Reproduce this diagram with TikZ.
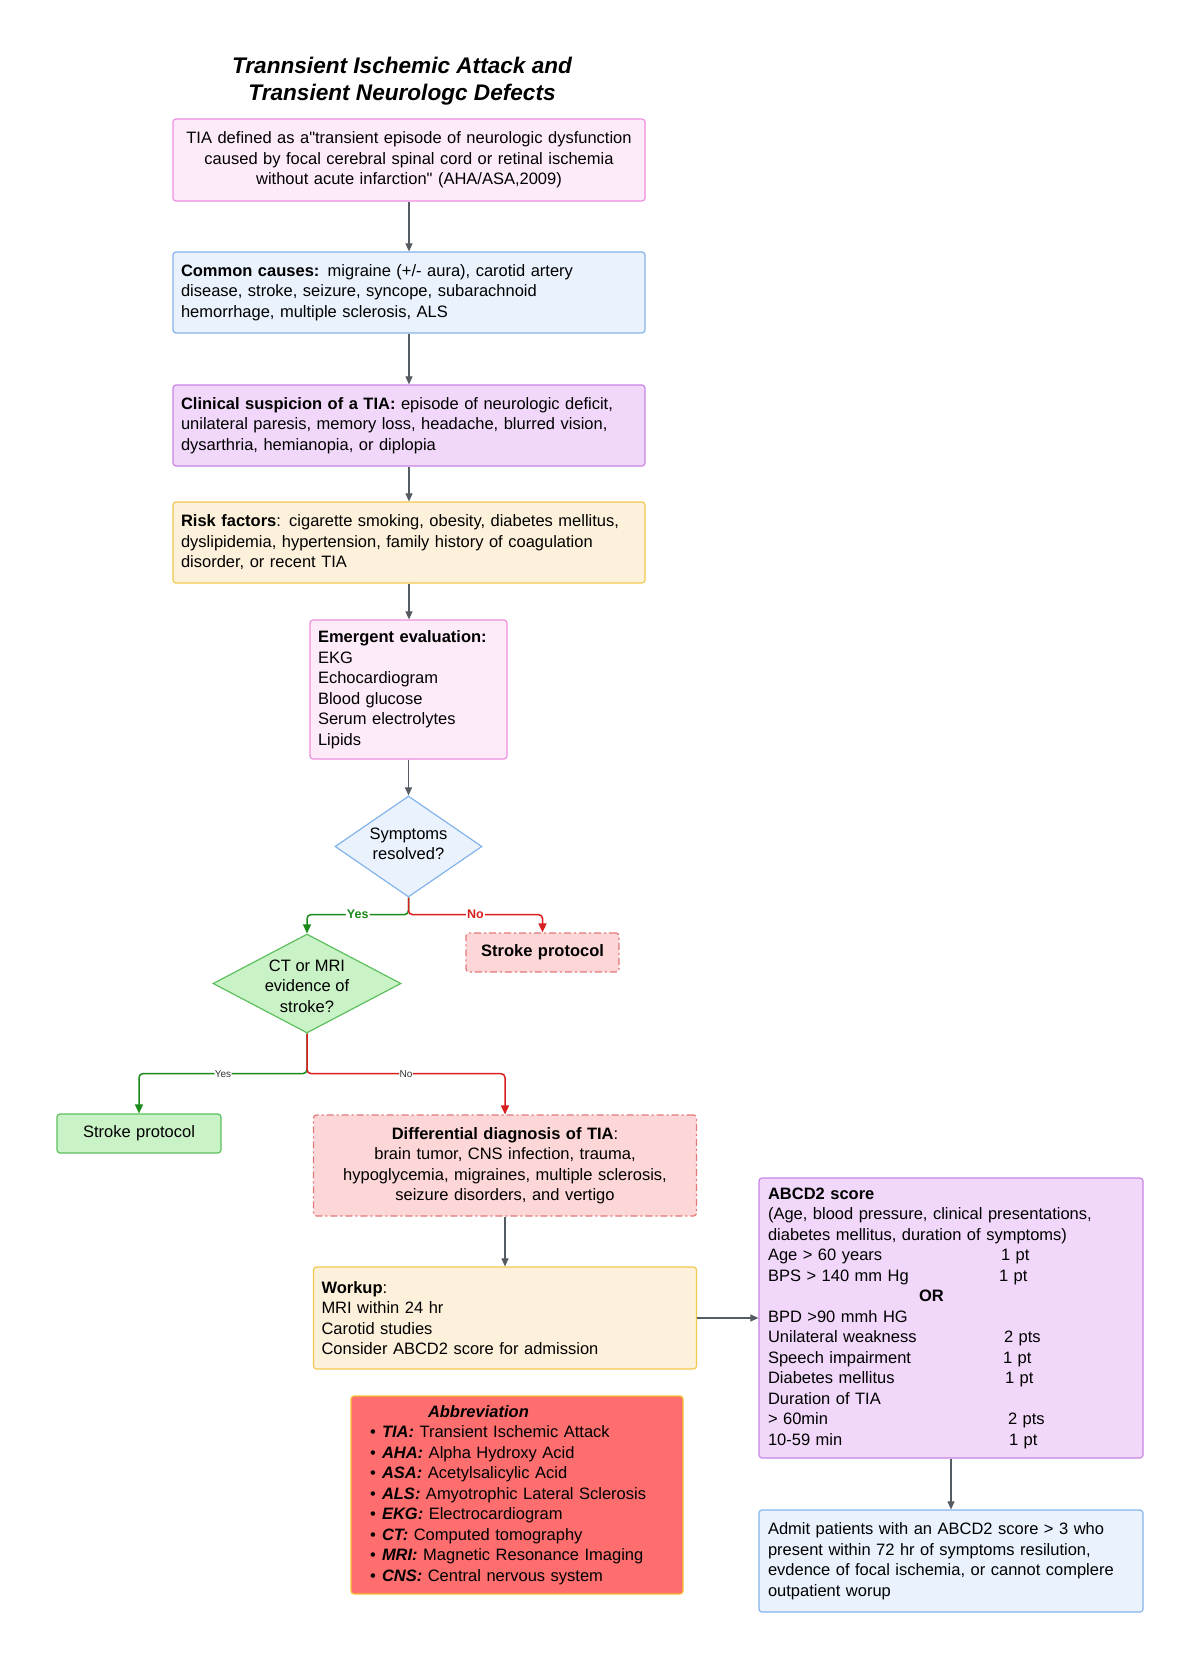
\documentclass[tikz,border=0pt]{standalone}
\usepackage{fontspec}
\setmainfont{Liberation Sans}
\newfontfamily\rawq{Liberation Sans}
\usetikzlibrary{arrows.meta,shapes.geometric}
\newcommand{\sdq}{{\rawq"}}
\definecolor{pinkF}{HTML}{FEEBF9}
\definecolor{pinkD}{HTML}{EE8EDF}
\definecolor{blueF}{HTML}{EAF2FD}
\definecolor{blueD}{HTML}{84B4EC}
\definecolor{purpF}{HTML}{F1D8FA}
\definecolor{purpD}{HTML}{C985E4}
\definecolor{yelF}{HTML}{FEF1DB}
\definecolor{yelD}{HTML}{F2C94C}
\definecolor{redF}{HTML}{FDD7D7}
\definecolor{redD}{HTML}{E3787A}
\definecolor{grnF}{HTML}{C9F2C6}
\definecolor{grnD}{HTML}{5DBF5D}
\definecolor{abbF}{HTML}{FE6E6E}
\definecolor{abbD}{HTML}{F5C431}
\definecolor{lineG}{HTML}{555B63}
\definecolor{yesC}{HTML}{1A8A1A}
\definecolor{noC}{HTML}{D81E1E}
\tikzset{
  txt/.style={font=\fontsize{16.5}{20.5}\selectfont},
  box/.style={txt, draw, rounded corners=3pt, line width=1.2pt, inner xsep=8pt, inner ysep=0pt},
  pinkbox/.style={box, fill=pinkF, draw=pinkD},
  bluebox/.style={box, fill=blueF, draw=blueD},
  purpbox/.style={box, fill=purpF, draw=purpD},
  yelbox/.style={box, fill=yelF, draw=yelD},
  redbox/.style={box, fill=redF, draw=redD, dash pattern=on 7pt off 3pt on 2pt off 3pt},
  grnbox/.style={box, fill=grnF, draw=grnD},
  dia/.style={diamond, draw, line width=1.2pt, inner sep=0pt},
  gl/.style={draw=lineG, line width=1.1pt, -{Triangle[width=7pt,length=8pt]}},
  yesl/.style={draw=yesC, line width=1.5pt, rounded corners=4pt, -{Triangle[width=8pt,length=9pt]}},
  nol/.style={draw=noC, line width=1.5pt, rounded corners=4pt, -{Triangle[width=8pt,length=9pt]}},
  lab1/.style={font=\fontsize{12.5}{14}\selectfont\bfseries, fill=white, inner sep=1pt},
  lab2/.style={font=\fontsize{10}{12}\selectfont, text=black!80, fill=white, inner sep=0.5pt},
}
\begin{document}
\begin{tikzpicture}[x=1pt,y=-1pt]
\useasboundingbox[fill=white] (0,0) rectangle (1200,1669);

\node[align=center, font=\fontsize{22.6}{27}\selectfont\bfseries\itshape] (title) at (402,81)
  {Trannsient Ischemic Attack and\\Transient Neurologc Defects};

\node[pinkbox, minimum width=472pt, minimum height=82pt, text width=456pt, align=center] (b1) at (409,160)
  {TIA defined as a\sdq transient episode of neurologic dysfunction\\caused by focal cerebral spinal cord or retinal ischemia\\without acute infarction\sdq{} (AHA/ASA,2009)};

\node[bluebox, minimum width=472pt, minimum height=81pt, text width=456pt, align=left] (b2) at (409,292.5)
  {\textbf{Common causes:} migraine (+/- aura), carotid artery\\disease, stroke, seizure, syncope, subarachnoid\\hemorrhage, multiple sclerosis, ALS};

\node[purpbox, minimum width=472pt, minimum height=81pt, text width=456pt, align=left] (b3) at (409,425.5)
  {\textbf{Clinical suspicion of a TIA:} episode of neurologic deficit,\\unilateral paresis, memory loss, headache, blurred vision,\\dysarthria, hemianopia, or diplopia};

\node[yelbox, minimum width=472pt, minimum height=81pt, text width=456pt, align=left] (b4) at (409,542.5)
  {\textbf{Risk factors}: cigarette smoking, obesity, diabetes mellitus,\\dyslipidemia, hypertension, family history of coagulation\\disorder, or recent TIA};

\node[pinkbox, minimum width=197pt, minimum height=139pt, text width=181pt, align=left] (b5) at (408.5,689.5)
  {\textbf{Emergent evaluation:}\\EKG\\Echocardiogram\\Blood glucose\\Serum electrolytes\\Lipids};

\node[dia, fill=blueF, draw=blueD, minimum width=147pt, minimum height=101pt] (d1) at (408.5,846.5) {};
\node[txt, align=center] (d1t) at (408.5,844) {Symptoms\\resolved?};

\node[redbox, minimum width=153pt, minimum height=39pt, text width=137pt, align=center] (sp1) at (542.5,952.5)
  {\textbf{Stroke protocol}};

\node[dia, fill=grnF, draw=grnD, minimum width=188pt, minimum height=99pt] (d2) at (307,983.5) {};
\node[txt, align=center] (d2t) at (307,986) {CT or MRI\\evidence of\\stroke?};

\node[grnbox, minimum width=164pt, minimum height=39pt, text width=148pt, align=center] (sp2) at (139,1133.5)
  {Stroke protocol};

\node[redbox, minimum width=383pt, minimum height=101pt, text width=367pt, align=center] (diff) at (505,1165.5)
  {\textbf{Differential diagnosis of TIA}:\\brain tumor, CNS infection, trauma,\\hypoglycemia, migraines, multiple sclerosis,\\seizure disorders, and vertigo};

\node[yelbox, minimum width=383pt, minimum height=102pt, text width=367pt, align=left] (work) at (505,1318)
  {\textbf{Workup}:\\MRI within 24 hr\\Carotid studies\\Consider ABCD2 score for admission};

\node[box, fill=abbF, draw=abbD, minimum width=332pt, minimum height=198pt, inner xsep=19pt, text width=294pt, align=left] (abb) at (517,1495)
  {\hspace*{58pt}\textbf{\textit{Abbreviation}}\\
   \makebox[12pt][l]{\textbullet}\textbf{\textit{TIA:}} Transient Ischemic Attack\\
   \makebox[12pt][l]{\textbullet}\textbf{\textit{AHA:}} Alpha Hydroxy Acid\\
   \makebox[12pt][l]{\textbullet}\textbf{\textit{ASA:}} Acetylsalicylic Acid\\
   \makebox[12pt][l]{\textbullet}\textbf{\textit{ALS:}} Amyotrophic Lateral Sclerosis\\
   \makebox[12pt][l]{\textbullet}\textbf{\textit{EKG:}} Electrocardiogram\\
   \makebox[12pt][l]{\textbullet}\textbf{\textit{CT:}} Computed tomography\\
   \makebox[12pt][l]{\textbullet}\textbf{\textit{MRI:}} Magnetic Resonance Imaging\\
   \makebox[12pt][l]{\textbullet}\textbf{\textit{CNS:}} Central nervous system};

\node[purpbox, minimum width=384pt, minimum height=280pt, inner xsep=9pt, text width=366pt, align=left] (abcd) at (951,1318)
  {\textbf{ABCD2 score}\\
   (Age, blood pressure, clinical presentations,\\
   diabetes mellitus, duration of symptoms)\\
   \makebox[233pt][l]{Age > 60 years}1 pt\\
   \makebox[231pt][l]{BPS > 140 mm Hg}1 pt\\
   \hspace*{151pt}\textbf{OR}\\
   BPD >90 mmh HG\\
   \makebox[236pt][l]{Unilateral weakness}2 pts\\
   \makebox[235pt][l]{Speech impairment}1 pt\\
   \makebox[237pt][l]{Diabetes mellitus}1 pt\\
   Duration of TIA\\
   \makebox[240pt][l]{> 60min}2 pts\\
   \makebox[241pt][l]{10-59 min}1 pt};

\node[bluebox, minimum width=384pt, minimum height=102pt, inner xsep=9pt, text width=366pt, align=left] (admit) at (951,1561)
  {Admit patients with an ABCD2 score > 3 who\\present within 72 hr of symptoms resilution,\\evdence of focal ischemia, or cannot complere\\outpatient worup};

% connectors
\draw[gl] (b1) -- (b2);
\draw[gl] (b2) -- (b3);
\draw[gl] (b3) -- (b4);
\draw[gl] (b4.south) -- (b4.south |- b5.north);
\draw[gl] (b5.south) -- (d1.north);
\draw[yesl] (d1.south) -- ++(0,17) -| node[lab1, text=yesC, pos=0.25] {Yes} (d2.north);
\draw[nol] (d1.south) -- ++(0,17) -| node[lab1, text=noC, pos=0.25] {No} (sp1.north);
\draw[yesl] (d2.south) -- ++(0,40) -| node[lab2, pos=0.25] {Yes} (sp2.north);
\draw[nol] (d2.south) -- ++(0,40) -| node[lab2, pos=0.25] {No} (diff.north);
\draw[gl] (diff) -- (work);
\draw[gl] (work.east) -- (abcd.west);
\draw[gl] (abcd) -- (admit);
\end{tikzpicture}
\end{document}
